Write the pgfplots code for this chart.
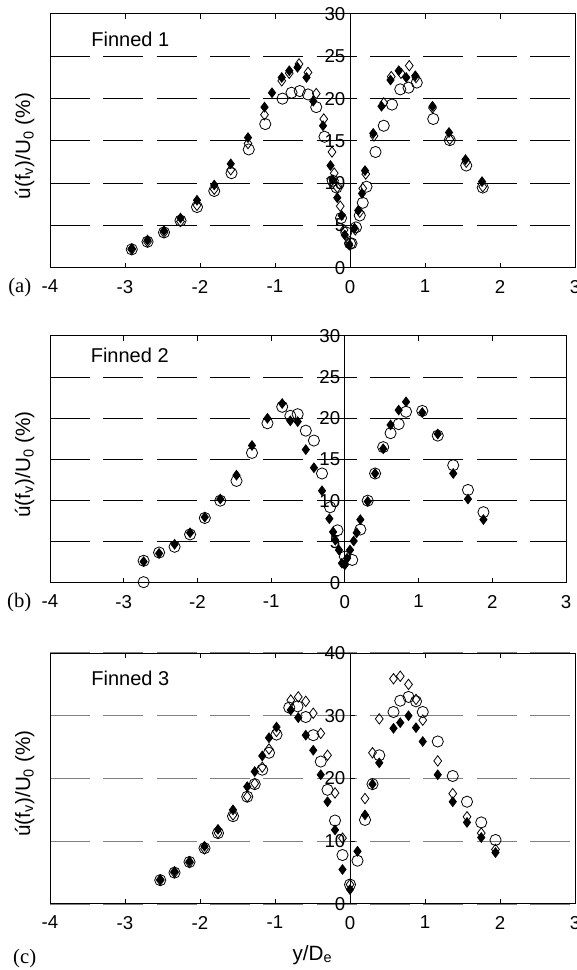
\documentclass[border=0pt]{standalone}
\usepackage{fontspec}
\setmainfont{Liberation Sans}
\newfontfamily\panelfont{Liberation Serif}
\usepackage{pgfplots}
\pgfplotsset{compat=1.18}

\pgfplotsset{
  panel/.style={
    scale only axis,
    axis x line=box,
    axis y line=center,
    x axis line style={-},
    y axis line style={-},
    axis line style={line width=0.75pt},
    hide obscured x ticks=false,
    hide obscured y ticks=false,
    xmin=-4, xmax=3, xtick={-4,-3,...,3},
    tick align=inside,
    major tick length=3.75pt,
    tick style={line width=0.75pt, black},
    /pgf/number format/assume math mode=true,
    tick label style={font=\fontsize{14}{16}\selectfont},
    xticklabel style={yshift=-5.5pt},
    ymajorgrids,
    clip=false,
  },
  solid grid/.style={grid style={black, line width=0.75pt, dash pattern=on 30pt off 10pt}},
  grey grid/.style={grid style={black!50, line width=1.1pt, dash pattern=on 30pt off 10pt}},
  fdia/.style={only marks, mark=diamond*, mark size=3.6pt, mark options={black, fill=black, line width=0.6pt}},
  odia/.style={only marks, mark=diamond, mark size=3.9pt, mark options={black, line width=0.6pt}},
  ocirc/.style={only marks, mark=o, mark size=4.2pt, mark options={black, line width=0.6pt}},
}

\newcommand{\panelframe}{\draw[line width=0.75pt] (rel axis cs:0,0) rectangle (rel axis cs:1,1);}
\newcommand{\ylab}{\node[rotate=90, font=\fontsize{15.5}{17}\selectfont] at ([xshift=-19pt]rel axis cs:0,0.48)
  {ú(f\textsubscript{v})/U\textsubscript{0} (\%)};}
\newcommand{\panellabel}[1]{\node[anchor=east, font=\panelfont\fontsize{15.5}{17}\selectfont] at ([xshift=-10.5pt,yshift=-15pt]rel axis cs:0,0) {#1};}

\begin{document}
\begin{tikzpicture}
\path[use as bounding box] (0,0) rectangle (432.75pt,727.5pt);

% ---------------- Finned 1 ----------------
\begin{axis}[panel, solid grid, at={(37.5pt,526.5pt)}, anchor=south west,
  width=393.75pt, height=190.5pt, ymin=0, ymax=30, ytick={0,5,...,30}]
\addplot[ocirc] coordinates {
(-2.91,2.2) (-2.70,3.1) (-2.48,4.2) (-2.26,5.6) (-2.04,7.2) (-1.81,9.1)
(-1.58,11.2) (-1.35,14.0) (-1.13,17.0) (-0.90,20.0) (-0.78,20.7) (-0.67,20.9)
(-0.56,20.5) (-0.45,19.0) (-0.34,15.5) (-0.23,10.3) (-0.18,9.5) (-0.12,5.9)
(-0.05,4.2) (0.00,2.9) (0.02,2.9) (0.08,4.8) (0.13,6.2) (0.17,7.7) (0.22,9.6)
(0.34,13.7) (0.45,16.8) (0.56,19.3) (0.67,21.1) (0.78,21.3) (0.89,21.9)
(1.11,17.6) (1.33,15.1) (1.55,12.1) (1.77,9.5)};
\addplot[odia] coordinates {
(-2.91,2.2) (-2.70,3.1) (-2.48,4.2) (-2.26,5.5) (-2.04,7.4) (-1.81,9.3)
(-1.59,11.6) (-1.36,14.7) (-1.14,18.1) (-0.91,22.1) (-0.81,23.0) (-0.68,24.1)
(-0.56,23.1) (-0.45,20.6) (-0.35,17.6) (-0.24,13.7) (-0.21,11.2) (-0.17,9.5)
(-0.13,7.3) (-0.08,4.5) (-0.02,2.9) (0.07,4.5) (0.13,6.6) (0.17,9.4) (0.21,11.1)
(0.32,15.6) (0.45,19.5) (0.55,22.6) (0.68,23.0) (0.79,23.9) (0.88,22.5)
(1.10,18.9) (1.33,15.2) (1.55,12.5) (1.77,9.6)};
\addplot[fdia] coordinates {
(-2.91,2.3) (-2.70,3.3) (-2.48,4.4) (-2.26,5.9) (-2.04,8.0) (-1.81,9.8)
(-1.59,12.3) (-1.36,15.4) (-1.14,19.0) (-1.04,20.7) (-0.91,22.5) (-0.81,23.3)
(-0.70,23.7) (-0.58,22.5) (-0.49,19.7) (-0.36,16.8) (-0.26,12.1) (-0.23,10.4)
(-0.17,8.3) (-0.11,6.2) (-0.07,3.9) (-0.01,2.7) (0.06,4.7) (0.11,6.8)
(0.16,8.8) (0.20,11.5) (0.31,15.9) (0.42,19.1) (0.54,22.2) (0.65,23.3)
(0.75,22.5) (0.87,22.7) (1.10,19.1) (1.32,16.0) (1.54,12.8) (1.76,10.2)};
\panelframe
\ylab
\node[anchor=west, font=\fontsize{15}{17}\selectfont] at (rel axis cs:0.07,0.90) {Finned 1};
\panellabel{(a)}
\end{axis}

% ---------------- Finned 2 ----------------
\begin{axis}[panel, solid grid, at={(37.5pt,290.25pt)}, anchor=south west,
  width=387pt, height=185.25pt, ymin=0, ymax=30, ytick={0,5,...,30}]
\addplot[ocirc] coordinates {
(-2.73,0.1) (-2.73,2.7) (-2.52,3.7) (-2.31,4.4) (-2.10,5.9) (-1.90,7.9)
(-1.69,10.0) (-1.47,12.4) (-1.26,15.8) (-1.05,19.4) (-0.85,21.4) (-0.74,20.3)
(-0.64,20.5) (-0.53,18.5) (-0.42,17.3) (-0.31,13.3) (-0.20,9.2) (-0.10,6.4)
(0.00,3.2) (0.10,2.8) (0.21,6.5) (0.31,10.0) (0.41,13.3) (0.52,16.5)
(0.62,18.2) (0.73,19.3) (0.83,20.8) (1.05,20.9) (1.26,17.9) (1.47,14.3)
(1.67,11.3) (1.88,8.6)};
\addplot[fdia] coordinates {
(-2.73,2.6) (-2.52,3.6) (-2.31,4.7) (-2.10,6.1) (-1.90,8.0) (-1.69,10.2)
(-1.47,13.1) (-1.26,16.7) (-1.05,20.0) (-0.85,21.8) (-0.74,19.7) (-0.64,19.6)
(-0.53,16.2) (-0.42,14.0) (-0.31,11.2) (-0.21,7.8) (-0.16,6.2) (-0.13,5.2)
(-0.08,4.0) (-0.04,2.4) (0.00,2.2) (0.03,3.0) (0.07,4.0) (0.12,5.1) (0.16,6.1)
(0.21,7.7) (0.31,9.9) (0.41,13.3) (0.52,16.3) (0.62,19.2) (0.73,21.0)
(0.83,22.0) (1.05,20.7) (1.26,18.1) (1.47,13.3) (1.67,10.2) (1.88,7.7)};
\panelframe
\ylab
\node[anchor=west, font=\fontsize{15}{17}\selectfont] at (rel axis cs:0.07,0.92) {Finned 2};
\panellabel{(b)}
\end{axis}

% ---------------- Finned 3 ----------------
\begin{axis}[panel, grey grid, at={(37.5pt,49.5pt)}, anchor=south west,
  width=393.75pt, height=188.25pt, ymin=0, ymax=40, ytick={0,10,...,40}]
\addplot[ocirc] coordinates {
(-2.53,3.8) (-2.34,5.0) (-2.14,6.7) (-1.94,8.9) (-1.76,11.3) (-1.56,14.0)
(-1.37,17.1) (-1.27,19.1) (-1.17,21.4) (-1.08,24.1) (-0.98,27.0) (-0.81,31.3)
(-0.70,31.5) (-0.59,29.8) (-0.49,26.9) (-0.39,22.7) (-0.30,18.2) (-0.20,13.3)
(-0.10,7.8) (0.00,3.1) (0.10,6.9) (0.20,13.4) (0.30,19.1) (0.39,23.7)
(0.58,30.6) (0.67,32.4) (0.78,33.0) (0.88,32.3) (0.97,30.6) (1.17,25.9)
(1.37,20.4) (1.56,16.3) (1.75,13.0) (1.94,10.2)};
\addplot[odia] coordinates {
(-2.53,3.8) (-2.34,5.0) (-2.14,6.6) (-1.94,8.8) (-1.76,11.3) (-1.56,14.2)
(-1.37,17.1) (-1.27,19.2) (-1.17,21.8) (-1.08,24.7) (-0.98,27.5) (-0.79,32.5)
(-0.69,33.0) (-0.59,32.3) (-0.49,30.4) (-0.39,27.2) (-0.30,23.7) (-0.20,17.7)
(-0.10,10.5) (0.00,3.1) (0.20,16.8) (0.30,24.1) (0.39,29.5) (0.58,35.9)
(0.67,36.3) (0.78,35.0) (0.88,32.6) (0.97,29.3) (1.17,22.8) (1.37,17.6)
(1.56,13.9) (1.75,11.3) (1.94,8.7)};
\addplot[fdia] coordinates {
(-2.53,3.9) (-2.34,5.2) (-2.14,6.8) (-1.94,9.2) (-1.76,11.9) (-1.56,15.0)
(-1.37,18.7) (-1.27,21.1) (-1.17,23.6) (-1.08,26.5) (-0.98,28.2) (-0.79,30.9)
(-0.69,29.7) (-0.59,26.9) (-0.49,24.5) (-0.39,20.6) (-0.30,16.3) (-0.20,11.8)
(-0.10,5.5) (0.00,2.3) (0.10,8.4) (0.20,14.2) (0.30,19.1) (0.39,22.5)
(0.58,28.0) (0.67,28.9) (0.78,30.0) (0.88,28.1) (0.97,25.9) (1.17,20.6)
(1.37,16.3) (1.56,13.0) (1.75,10.6) (1.94,8.2)};
\panelframe
\ylab
\node[anchor=west, font=\fontsize{15}{17}\selectfont] at (rel axis cs:0.07,0.90) {Finned 3};
\node[font=\fontsize{15.5}{17}\selectfont] at ([yshift=-38pt]rel axis cs:0.5,0) {y/D\textsubscript{e}};
\node[font=\panelfont\fontsize{15.5}{17}\selectfont] at ([xshift=-19pt,yshift=-41pt]rel axis cs:0,0) {(c)};
\end{axis}
\end{tikzpicture}
\end{document}
